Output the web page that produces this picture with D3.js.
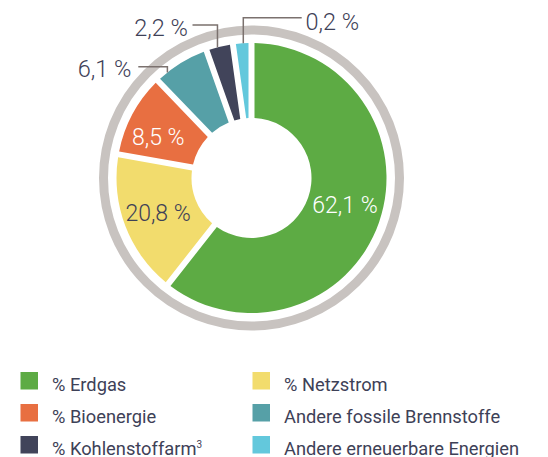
<!DOCTYPE html>
<html>
<head>
<meta charset="utf-8">
<script src="https://cdn.jsdelivr.net/npm/d3@7"></script>
<style>
  html, body { margin: 0; padding: 0; background: #ffffff; }
  svg { display: block; }
  text { font-family: Roboto, "Noto Sans", sans-serif; }
</style>
</head>
<body>
<div id="chart"></div>
<script>
// ---- data ----
const categories = ["% Erdgas", "% Netzstrom", "% Bioenergie", "Andere fossile Brennstoffe", "% Kohlenstoffarm", "Andere erneuerbare Energien"];
const labelTexts = ["62,1 %", "20,8 %", "8,5 %", "6,1 %", "2,2 %", "0,2 %"];
// slice sizes as drawn in the picture (share of full circle, %)
const sliceShares = [60.6, 17.2, 10.0, 6.8, 3.2, 2.2];
const superscripts = ["", "", "", "", "3", ""];
const colors = ["#5dab44", "#f2dc6d", "#e86f41", "#56a0a7", "#41445a", "#63c8dc"];

// ---- layout ----
const W = 548, H = 457;
const cx = 251.5, cy = 178;
const rOuter = 135, rInner = 60;
const ringR = 148, ringW = 9;
const textColor = "#3e4157";
const leaderColor = "#7b716e";

const svg = d3.select("#chart").append("svg")
  .attr("width", W).attr("height", H);

const g = svg.append("g").attr("transform", `translate(${cx},${cy})`);

// outer gray ring
g.append("circle")
  .attr("r", ringR)
  .attr("fill", "none")
  .attr("stroke", "#c8c3c0")
  .attr("stroke-width", ringW);

const pie = d3.pie().sort(null).value(d => d).startAngle(0).endAngle(2 * Math.PI);
const arcs = pie(sliceShares);

const arc = d3.arc()
  .innerRadius(rInner)
  .outerRadius(rOuter)
  .padAngle(0.06)
  .padRadius(100);

g.selectAll("path.slice")
  .data(arcs)
  .join("path")
  .attr("class", "slice")
  .attr("d", arc)
  .attr("fill", (d, i) => colors[i]);

// inside labels (first three slices)
const labelArc = d3.arc().innerRadius(100).outerRadius(100);
const insideCfg = [
  { i: 0, fill: "#ffffff", nudge: [-1, -6] },
  { i: 1, fill: textColor, nudge: [0, -1] },
  { i: 2, fill: "#ffffff", nudge: [-5, 6] }
];
insideCfg.forEach(c => {
  const [x, y] = labelArc.centroid(arcs[c.i]);
  g.append("text")
    .attr("x", x + c.nudge[0])
    .attr("y", y + c.nudge[1])
    .attr("dy", "0.36em")
    .attr("text-anchor", "middle")
    .attr("font-size", 23)
    .attr("font-weight", 300)
    .attr("fill", c.fill)
    .text(labelTexts[c.i]);
});

// outside labels with elbow leaders
const outsideCfg = [
  { i: 3, t: 0.22, elbowY: 66.7, endX: 138.3, textX: 131.5, baseY: 76.7, anchor: "end" },
  { i: 4, t: 0.42, elbowY: 25,   endX: 192.5, textX: 188,   baseY: 35.5, anchor: "end" },
  { i: 5, t: 0.56, elbowY: 17.7, endX: 301.7, textX: 305.5, baseY: 30,   anchor: "start" }
];
outsideCfg.forEach(c => {
  const a = arcs[c.i];
  const ang = a.startAngle + (a.endAngle - a.startAngle) * c.t;
  const px = cx + rOuter * Math.sin(ang);
  const py = cy - rOuter * Math.cos(ang);
  svg.append("path")
    .attr("d", d3.line()([[px, py], [px, c.elbowY], [c.endX, c.elbowY]]))
    .attr("fill", "none")
    .attr("stroke", leaderColor)
    .attr("stroke-width", 1.5);
  svg.append("text")
    .attr("x", c.textX)
    .attr("y", c.baseY)
    .attr("text-anchor", c.anchor)
    .attr("font-size", 23.5)
    .attr("font-weight", 300)
    .attr("fill", textColor)
    .text(labelTexts[c.i]);
});

// legend
const legX = [20.5, 252.5], legY0 = 372, legDY = 32, sq = 17.5;
const leg = svg.selectAll("g.leg")
  .data(categories)
  .join("g")
  .attr("class", "leg")
  .attr("transform", (d, i) => `translate(${legX[i % 2]},${legY0 + Math.floor(i / 2) * legDY})`);
leg.append("rect")
  .attr("width", sq).attr("height", sq)
  .attr("fill", (d, i) => colors[i]);
const lt = leg.append("text")
  .attr("x", 31.5)
  .attr("y", 18.5)
  .attr("font-size", 18.3)
  .attr("fill", textColor)
  .text(d => d);
lt.filter((d, i) => superscripts[i] !== "")
  .append("tspan")
  .attr("dy", -7)
  .attr("font-size", 10)
  .text((d) => superscripts[categories.indexOf(d)]);
</script>
</body>
</html>
